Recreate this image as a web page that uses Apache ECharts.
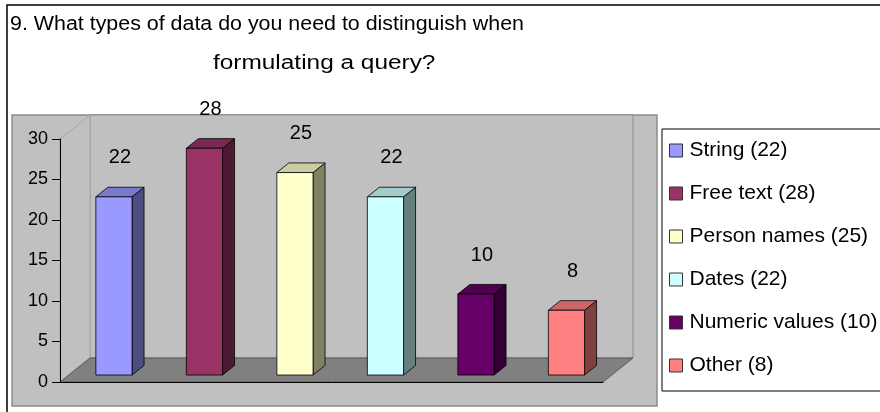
<!DOCTYPE html>
<html>
<head>
<meta charset="utf-8">
<script src="https://cdn.jsdelivr.net/npm/echarts@6/dist/echarts.min.js"></script>
<style>
html, body { margin: 0; padding: 0; background: #fff; }
#chart { width: 880px; height: 412px; }
</style>
</head>
<body>
<div id="chart"></div>
<script>
// data
const titleLines = ['9. What types of data do you need to distinguish when', 'formulating a query?']
const categories = ['String', 'Free text', 'Person names', 'Dates', 'Numeric values', 'Other']
const counts = [22, 28, 25, 22, 10, 8]
const yMax = 30
const yStep = 5

// excel-ish palette: front face, side face, top face
const frontColors = ['#9999FF', '#993366', '#FFFFCC', '#CCFFFF', '#660066', '#FF8080']
const sideColors = ['#4D4D80', '#4D1A33', '#808066', '#668080', '#330033', '#804040']
const topColors = ['#7A7ACC', '#7A2952', '#CCCCA3', '#A3CCCC', '#520052', '#CC6666']

const FONT = '"Liberation Sans", Arial, sans-serif'
const DEPTH_X = 30
const DEPTH_Y = -24

const legendNames = categories.map((c, i) => `${c} (${counts[i]})`)

const chart = echarts.init(document.getElementById('chart'))

// floor + walls, drawn from the grid rect
const renderWalls = (params, api) => {
  const cs = params.coordSys
  const L = cs.x, R = cs.x + cs.width, T = cs.y, B = cs.y + cs.height
  return {
    type: 'group',
    children: [
      {
        type: 'rect',
        shape: { x: L + DEPTH_X, y: T + DEPTH_Y, width: cs.width, height: cs.height },
        style: { fill: '#C0C0C0', stroke: '#8C8C8C', lineWidth: 1 }
      },
      {
        type: 'polygon',
        shape: { points: [[L, B], [L, T], [L + DEPTH_X, T + DEPTH_Y], [L + DEPTH_X, B + DEPTH_Y]] },
        style: { fill: '#C0C0C0', stroke: '#A6A6A6', lineWidth: 1 }
      },
      {
        type: 'polygon',
        shape: { points: [[L, B], [R, B], [R + DEPTH_X, B + DEPTH_Y], [L + DEPTH_X, B + DEPTH_Y]] },
        style: { fill: '#808080', stroke: '#5A5A5A', lineWidth: 1 }
      }
    ]
  }
}

const renderBar = (params, api) => {
  const idx = api.value(0)
  const val = api.value(1)
  const base = api.coord([idx, 0])
  const top = api.coord([idx, val])
  const band = api.size([1, 0])[0]
  const w = band * 0.4
  const ox = DEPTH_X * 0.29, oy = DEPTH_Y * 0.29
  const bx = DEPTH_X * 0.4, by = DEPTH_Y * 0.4
  const x0 = base[0] - w / 2 + ox
  const x1 = x0 + w
  const yb = base[1] + oy
  const yt = top[1] + oy
  const edge = { stroke: '#000', lineWidth: 0.8 }
  return {
    type: 'group',
    children: [
      {
        type: 'polygon',
        shape: { points: [[x1, yb], [x1 + bx, yb + by], [x1 + bx, yt + by], [x1, yt]] },
        style: Object.assign({ fill: sideColors[idx] }, edge)
      },
      {
        type: 'polygon',
        shape: { points: [[x0, yt], [x1, yt], [x1 + bx, yt + by], [x0 + bx, yt + by]] },
        style: Object.assign({ fill: topColors[idx] }, edge)
      },
      {
        type: 'rect',
        shape: { x: x0, y: yt, width: w, height: yb - yt },
        style: Object.assign({ fill: frontColors[idx] }, edge)
      },
      {
        type: 'text',
        style: {
          text: String(val),
          x: (x0 + x1 + bx) / 2,
          y: yt - 39,
          align: 'center',
          verticalAlign: 'middle',
          font: '20px ' + FONT,
          fill: '#000'
        }
      }
    ]
  }
}

const option = {
  animation: false,
  graphic: [
    { type: 'rect', z: -20, shape: { x: 7, y: 5, width: 900, height: 440 }, style: { fill: '#fff', stroke: '#000', lineWidth: 1.5 } },
    { type: 'rect', z: -10, shape: { x: 12, y: 115, width: 645, height: 291 }, style: { fill: '#C0C0C0', stroke: '#8C8C8C', lineWidth: 1.5 } },
    // two title lines, the original is stretched a bit wider than plain Arial
    {
      type: 'text', x: 10, y: 24, scaleX: 1.07, z: 5,
      style: { text: titleLines[0], font: '20px ' + FONT, fill: '#000', verticalAlign: 'middle' }
    },
    {
      type: 'text', x: 213, y: 63, scaleX: 1.22, z: 5,
      style: { text: titleLines[1], font: '20px ' + FONT, fill: '#000', verticalAlign: 'middle' }
    }
  ],
  legend: {
    orient: 'vertical',
    left: 662,
    top: 129,
    padding: [11, 40, 15, 7],
    itemWidth: 13,
    itemHeight: 13,
    itemGap: 22,
    icon: 'rect',
    selectedMode: false,
    backgroundColor: '#fff',
    borderColor: '#000',
    borderWidth: 1,
    textStyle: { fontSize: 21, lineHeight: 20, fontFamily: FONT, color: '#000', padding: [0, 0, 0, 2] },
    data: legendNames.map((name, i) => ({
      name,
      itemStyle: { color: frontColors[i], borderColor: '#333', borderWidth: 1 }
    }))
  },
  grid: { left: 60, top: 139, width: 543, height: 243 },
  xAxis: {
    type: 'category',
    data: categories,
    z: 10,
    axisLine: { lineStyle: { color: '#000', width: 1 } },
    axisTick: { show: false },
    axisLabel: { show: false },
    splitLine: { show: false }
  },
  yAxis: {
    type: 'value',
    min: 0,
    max: yMax,
    interval: yStep,
    z: 10,
    axisLine: { show: true, lineStyle: { color: '#000', width: 1 } },
    axisTick: { show: true, length: 8, lineStyle: { color: '#000' } },
    axisLabel: { fontSize: 18, fontFamily: FONT, color: '#000', margin: 12 },
    splitLine: { show: false }
  },
  series: [
    {
      type: 'custom',
      name: 'walls',
      silent: true,
      z: 1,
      renderItem: renderWalls,
      data: [[0, 0]]
    }
  ].concat(categories.map((c, i) => ({
    type: 'custom',
    name: legendNames[i],
    z: 3,
    itemStyle: { color: frontColors[i] },
    renderItem: renderBar,
    encode: { x: 0, y: 1 },
    data: [[i, counts[i]]]
  })))
}

chart.setOption(option)
</script>
</body>
</html>
